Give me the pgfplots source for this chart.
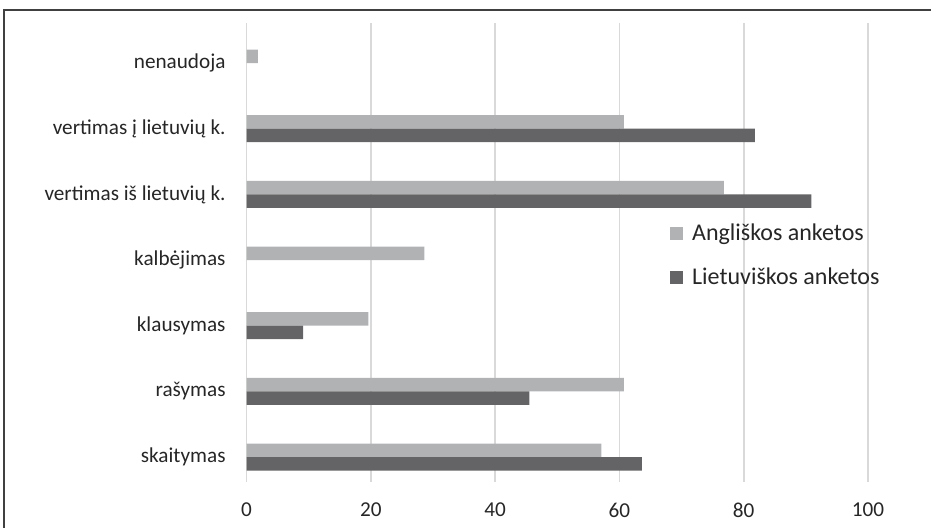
\documentclass[border=0pt]{standalone}
\usepackage{fontspec}
\setmainfont{Carlito}
\usepackage{pgfplots}
\pgfplotsset{compat=1.18}
\definecolor{lightbar}{RGB}{177,178,180}
\definecolor{darkbar}{RGB}{100,100,102}
\definecolor{gridc}{RGB}{217,217,217}
\definecolor{txt}{RGB}{38,38,38}
\definecolor{framec}{RGB}{64,64,64}
\begin{document}
\begin{tikzpicture}[x=1pt,y=1pt]
\useasboundingbox (0,0) rectangle (465.5,264);
\draw[framec, line width=0.6pt] (2,0) -- (2,259) -- (465.5,259);
\begin{axis}[
  at={(123.3pt,23pt)}, anchor=south west,
  scale only axis, width=310.7pt, height=229.5pt,
  xbar, bar width=6.75pt,
  xmin=0, xmax=100, ymin=-0.38, ymax=6.61,
  xtick={0,20,...,100}, ytick={0,...,6},
  yticklabels={skaitymas, rašymas, klausymas, kalbėjimas, vertimas iš lietuvių k., vertimas į lietuvių k., nenaudoja},
  axis line style={draw=none},
  major tick length=0pt,
  xmajorgrids, grid style={gridc, line width=0.8pt},
  tick label style={font=\fontsize{10.6}{12}\selectfont, text=txt},
  xticklabel style={yshift=-7pt},
  yticklabel style={xshift=-7pt},
  /pgf/number format/assume math mode=true,
  legend style={at={(0.68,0.4935)}, anchor=west, draw=none, fill=none, font=\fontsize{12}{14}\selectfont, text=txt, row sep=8pt, inner sep=0pt, /tikz/every odd column/.append style={column sep=2.5pt}},
  legend cell align=left,
  legend image code/.code={\fill[#1] (0pt,-3.4pt) rectangle (6.8pt,3.4pt);},
]
\addplot[fill=lightbar, draw=none, bar shift=3.375pt] coordinates {(57.1,0) (60.7,1) (19.6,2) (28.6,3) (76.8,4) (60.7,5) (1.8,6)};
\addplot[fill=darkbar, draw=none, bar shift=-3.375pt] coordinates {(63.6,0) (45.5,1) (9.1,2) (90.9,4) (81.8,5)};
\legend{Angliškos anketos, Lietuviškos anketos}
\end{axis}
\end{tikzpicture}
\end{document}
